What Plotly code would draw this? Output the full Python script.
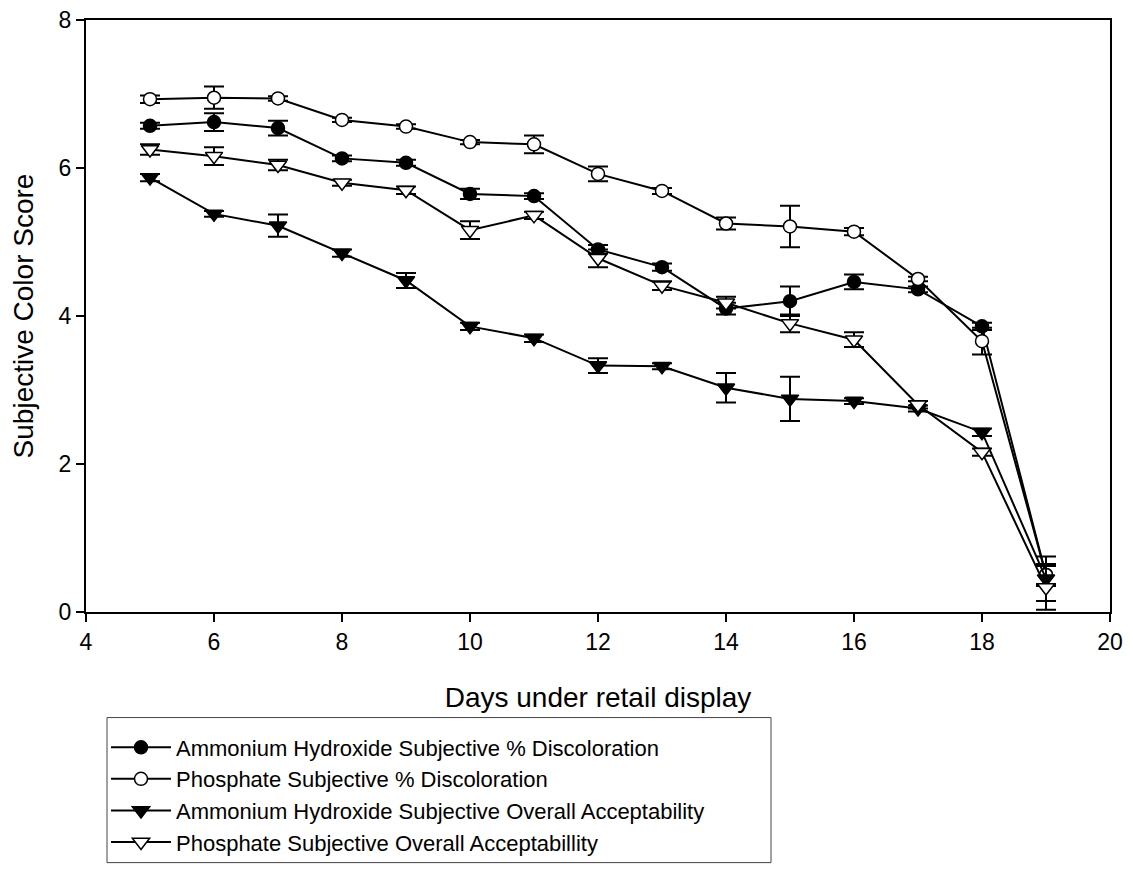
import plotly.graph_objects as go

days = [5, 6, 7, 8, 9, 10, 11, 12, 13, 14, 15, 16, 17, 18, 19]

amm_disc = [6.57, 6.62, 6.54, 6.13, 6.07, 5.65, 5.62, 4.90, 4.66, 4.10, 4.20, 4.46, 4.36, 3.86, 0.50]
amm_disc_err = [0.04, 0.12, 0.10, 0.04, 0.04, 0.07, 0.04, 0.06, 0.05, 0.08, 0.20, 0.10, 0.04, 0.05, 0.15]

phos_disc = [6.93, 6.95, 6.94, 6.65, 6.56, 6.35, 6.32, 5.92, 5.69, 5.25, 5.21, 5.14, 4.50, 3.66, 0.50]
phos_disc_err = [0.05, 0.15, 0.03, 0.03, 0.03, 0.03, 0.12, 0.10, 0.04, 0.08, 0.28, 0.05, 0.03, 0.18, 0.12]

amm_oa = [5.87, 5.38, 5.22, 4.85, 4.48, 3.86, 3.70, 3.33, 3.32, 3.03, 2.88, 2.85, 2.75, 2.43, 0.45]
amm_oa_err = [0.05, 0.04, 0.15, 0.05, 0.10, 0.05, 0.05, 0.10, 0.04, 0.20, 0.30, 0.04, 0.04, 0.05, 0.30]

phos_oa = [6.25, 6.16, 6.04, 5.80, 5.70, 5.16, 5.36, 4.78, 4.41, 4.18, 3.90, 3.68, 2.80, 2.16, 0.33]
phos_oa_err = [0.07, 0.12, 0.07, 0.04, 0.05, 0.12, 0.05, 0.12, 0.06, 0.08, 0.12, 0.10, 0.05, 0.05, 0.30]

series = [
    ("Ammonium Hydroxide Subjective % Discoloration", amm_disc, amm_disc_err, "circle", "black", 13),
    ("Phosphate Subjective % Discoloration", phos_disc, phos_disc_err, "circle", "white", 13),
    ("Ammonium Hydroxide Subjective Overall Acceptability", amm_oa, amm_oa_err, "triangle-down", "black", 15),
    ("Phosphate Subjective Overall Acceptabillity", phos_oa, phos_oa_err, "triangle-down", "white", 15),
]

FONT = "Liberation Sans, Arial, sans-serif"

fig = go.Figure()
for name, vals, errs, sym, fill, size in series:
    fig.add_trace(go.Scatter(
        x=days, y=vals, name=name, mode="lines+markers",
        line=dict(color="black", width=2),
        marker=dict(symbol=sym, size=size, color=fill, line=dict(color="black", width=1.5)),
        error_y=dict(type="data", array=errs, visible=True, color="black", thickness=2, width=10),
    ))

axis_font = dict(family=FONT, size=23, color="black")

# page body has an 8px default margin; figure is sized to compensate
W, H = 1125, 868
ML, MR, MT, MB = 78, 23, 12, 256
PW, PH = W - ML - MR, H - MT - MB


def px_x(sx):
    return (sx - 8 - ML) / PW


def px_y(sy):
    return 1 - (sy - 8 - MT) / PH


fig.add_shape(type="rect", xref="paper", yref="paper",
              x0=px_x(107), x1=px_x(771), y0=px_y(727), y1=px_y(874),
              line=dict(color="#444", width=1), fillcolor="rgba(0,0,0,0)", layer="below")

fig.update_layout(
    width=W, height=H,
    margin=dict(l=ML, r=MR, t=MT, b=MB),
    paper_bgcolor="white", plot_bgcolor="white",
    font=dict(family=FONT, color="black"),
    showlegend=True,
    legend=dict(
        x=px_x(106), y=px_y(736), xanchor="left", yanchor="top",
        borderwidth=0, bgcolor="rgba(0,0,0,0)",
        font=dict(family=FONT, size=22, color="black"),
        tracegroupgap=0, itemwidth=60,
    ),
    xaxis=dict(
        range=[4, 20], tickvals=[4, 6, 8, 10, 12, 14, 16, 18, 20],
        showgrid=False, zeroline=False, showline=True, linecolor="black", linewidth=2,
        mirror=True, ticks="outside", ticklen=8, tickwidth=1.5, tickcolor="black",
        tickfont=axis_font, automargin=False, ticklabeloverflow="allow",
        title=dict(text="Days under retail display", font=dict(size=28, family=FONT), standoff=34),
    ),
    yaxis=dict(
        range=[0, 8], tickvals=[0, 2, 4, 6, 8],
        showgrid=False, zeroline=False, showline=True, linecolor="black", linewidth=2,
        mirror=True, ticks="outside", ticklen=8, tickwidth=1.5, tickcolor="black",
        tickfont=axis_font, automargin=False, ticklabeloverflow="allow",
        title=dict(text="Subjective Color Score", font=dict(size=28, family=FONT), standoff=22),
    ),
)

fig.write_html("out.html")
